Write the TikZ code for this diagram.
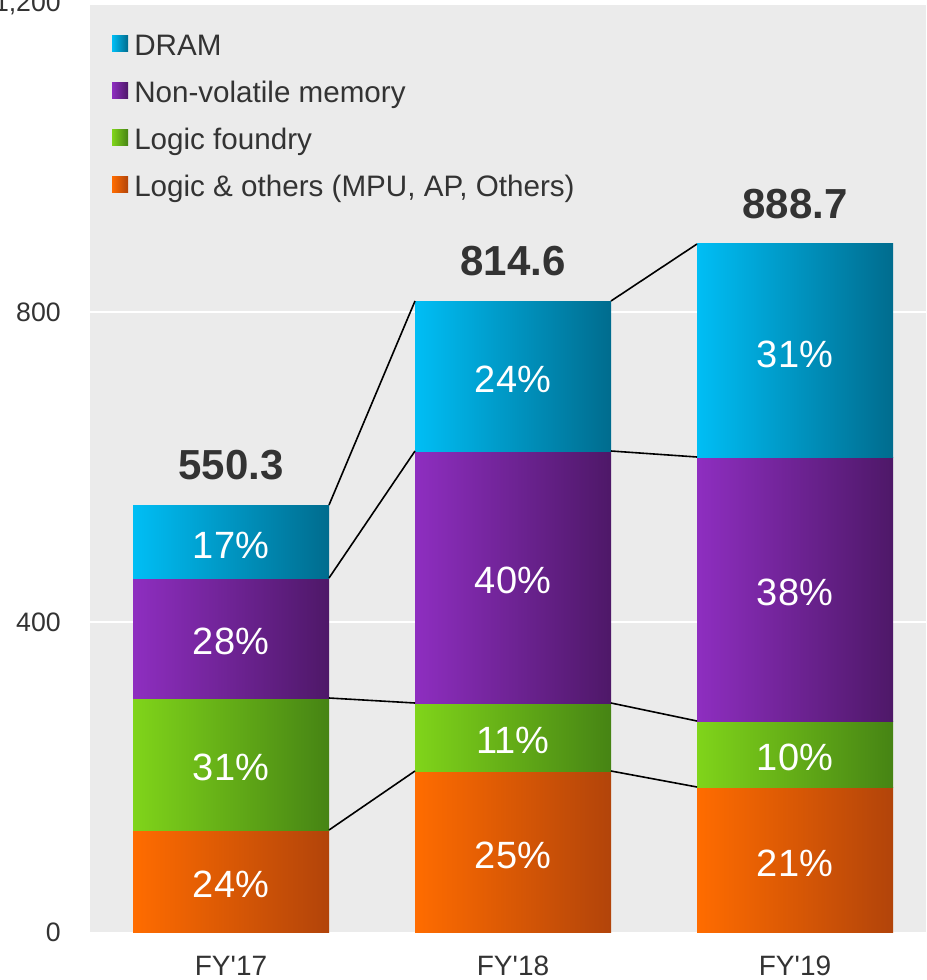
\documentclass[tikz,border=0pt]{standalone}
\usepackage{fontspec}
\setmainfont{Liberation Sans}[Ligatures=TeXOff]
\usetikzlibrary{positioning}

\definecolor{plotbg}{RGB}{235,235,235}
\definecolor{txtgrey}{RGB}{51,51,51}
\definecolor{dramL}{RGB}{0,190,245}
\definecolor{dramR}{RGB}{0,108,142}
\definecolor{nvmL}{RGB}{142,46,192}
\definecolor{nvmR}{RGB}{78,24,104}
\definecolor{fdyL}{RGB}{128,212,26}
\definecolor{fdyR}{RGB}{70,132,20}
\definecolor{lgcL}{RGB}{255,108,0}
\definecolor{lgcR}{RGB}{178,68,10}

\begin{document}
\begin{tikzpicture}[x=0.75pt,y=0.75pt,yscale=-1,xscale=1,
  seg/.style={inner sep=0pt,outer sep=0pt,anchor=south west,minimum width=147pt,
    text=white,text height=28pt,text depth=3pt,font=\fontsize{28.5}{28.5}\selectfont},
  dram/.style={left color=dramL,right color=dramR},
  nvm/.style={left color=nvmL,right color=nvmR},
  fdy/.style={left color=fdyL,right color=fdyR},
  lgc/.style={left color=lgcL,right color=lgcR},
  key/.style={inner sep=0pt,outer sep=0pt,minimum size=12pt},
  keytext/.style={inner sep=0pt,anchor=west,text=txtgrey,text height=19pt,text depth=2pt,
    font=\fontsize{22.2}{22.2}\selectfont},
  axislbl/.style={inner sep=0pt,text=txtgrey,font=\fontsize{20}{20}\selectfont},
  total/.style={inner sep=0pt,text=txtgrey,font=\fontsize{31.5}{31.5}\selectfont\bfseries},
  link/.style={black,line width=1.2pt}]
\useasboundingbox (0,0) rectangle (926,980);

% plot area and grid
\fill[plotbg] (90,5) rectangle (926,932);
\draw[white,line width=1.5pt] (90,312) -- (926,312);
\draw[white,line width=1.5pt] (90,622) -- (926,622);

% y axis labels
\node[axislbl,anchor=east] (y1200) at (61,4) {1,200};
\node[axislbl,anchor=east] (y800) at (61,312) {800};
\node[axislbl,anchor=east] (y400) at (61,622) {400};
\node[axislbl,anchor=east] (y0) at (61,932) {0};

% FY'17
\node[seg,lgc,minimum height=76.5pt] (l17) at (133,932) {24\%};
\node[seg,fdy,minimum height=99pt] (f17) at (l17.north west) {31\%};
\node[seg,nvm,minimum height=90pt] (n17) at (f17.north west) {28\%};
\node[seg,dram,minimum height=54.75pt] (d17) at (n17.north west) {17\%};
\node[total,above=18.75pt of d17] (t17) {550.3};

% FY'18
\node[seg,lgc,minimum height=120.75pt] (l18) at (415,932) {25\%};
\node[seg,fdy,minimum height=51pt] (f18) at (l18.north west) {11\%};
\node[seg,nvm,minimum height=189pt] (n18) at (f18.north west) {40\%};
\node[seg,dram,minimum height=112.5pt] (d18) at (n18.north west) {24\%};
\node[total,above=18.75pt of d18] (t18) {814.6};

% FY'19
\node[seg,lgc,minimum height=108.75pt] (l19) at (697,932) {21\%};
\node[seg,fdy,minimum height=49.5pt] (f19) at (l19.north west) {10\%};
\node[seg,nvm,minimum height=198pt] (n19) at (f19.north west) {38\%};
\node[seg,dram,minimum height=159.75pt] (d19) at (n19.north west) {31\%};
\node[total,above=18.75pt of d19] (t19) {888.7};

% x axis labels
\node[axislbl,font=\fontsize{21}{21}\selectfont,below=18pt of l17.south] (x17) {FY'17};
\node[axislbl,font=\fontsize{21}{21}\selectfont,below=18pt of l18.south] (x18) {FY'18};
\node[axislbl,font=\fontsize{21}{21}\selectfont,below=18pt of l19.south] (x19) {FY'19};

% links between bars
\draw[link] (d17.north east) -- (d18.north west);
\draw[link] (n17.north east) -- (n18.north west);
\draw[link] (f17.north east) -- (f18.north west);
\draw[link] (l17.north east) -- (l18.north west);
\draw[link] (d18.north east) -- (d19.north west);
\draw[link] (n18.north east) -- (n19.north west);
\draw[link] (f18.north east) -- (f19.north west);
\draw[link] (l18.north east) -- (l19.north west);

% legend
\node[key,dram] (k1) at (120,44) {};
\node[keytext,right=4.5pt of k1] (k1t) {DRAM};
\node[key,nvm] (k2) at (120,91) {};
\node[keytext,right=4.5pt of k2] (k2t) {Non-volatile memory};
\node[key,fdy] (k3) at (120,138) {};
\node[keytext,right=4.5pt of k3] (k3t) {Logic foundry};
\node[key,lgc] (k4) at (120,185) {};
\node[keytext,right=4.5pt of k4] (k4t) {Logic \& others (MPU, AP, Others)};

\end{tikzpicture}
\end{document}
